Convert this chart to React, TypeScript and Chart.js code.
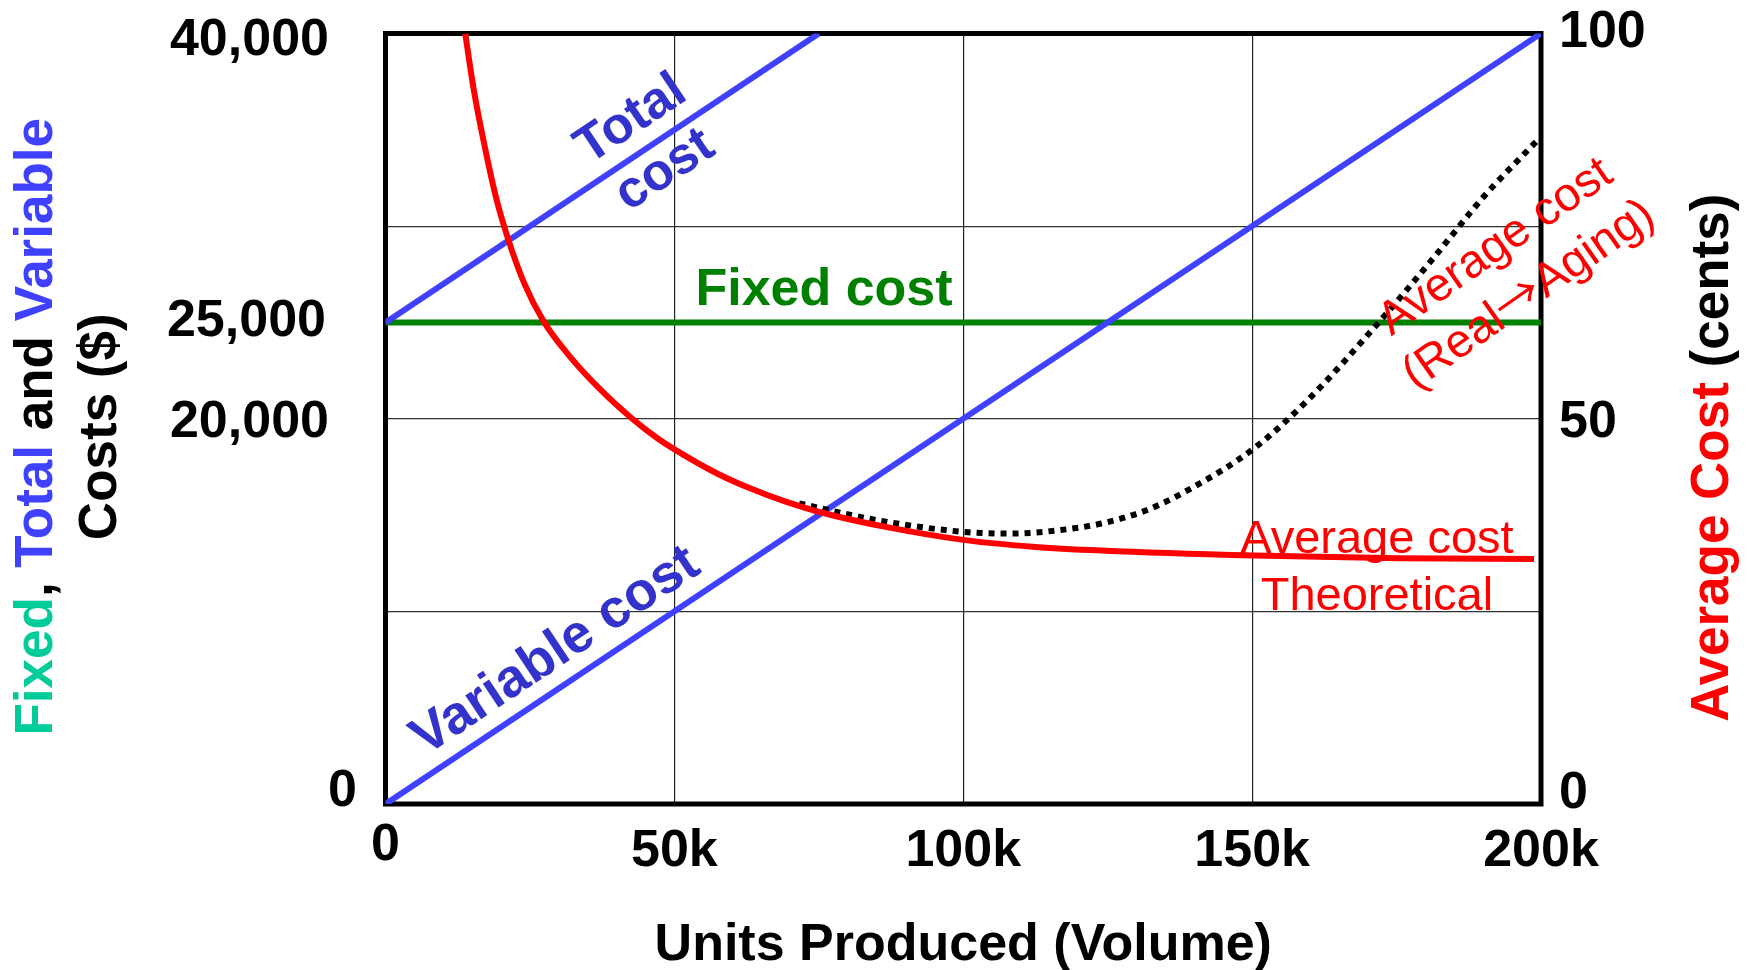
import React, { useEffect, useRef } from 'react';
import { Chart, registerables } from 'chart.js';

Chart.register(...registerables);

// ---------------- data ----------------
const X_TICKS = [0, 50000, 100000, 150000, 200000];
const X_TICK_LABELS = ['0', '50k', '100k', '150k', '200k'];
const COST_TICKS = [0, 20000, 25000, 40000];
const COST_TICK_LABELS = ['0', '20,000', '25,000', '40,000'];
const COST_GRID = [10000, 20000, 30000];
const AVG_TICKS = [0, 50, 100];
const AVG_TICK_LABELS = ['0', '50', '100'];

const VARIABLE_UNITS = [0, 200000];
const VARIABLE_COST = [0, 40000];
const TOTAL_UNITS = [0, 75000];
const TOTAL_COST = [25000, 40000];
const FIXED_UNITS = [0, 200000];
const FIXED_COST = [25000, 25000];

const AVG_THEORY_UNITS = [13800, 15300, 17100, 19100, 21100, 24000, 27400, 32000, 37300, 42400, 47000, 50300, 57400, 63000, 69000, 75100, 87000, 100300, 112000, 123900, 150300, 175300, 198800];
const AVG_THEORY_CENTS = [100, 92.6, 85.6, 78.8, 73.6, 67.6, 62.6, 58.0, 53.7, 50.2, 47.5, 45.9, 42.9, 41.0, 39.3, 37.9, 35.9, 34.25, 33.4, 32.9, 32.25, 31.9, 31.8];

const AVG_REAL_UNITS = [71600, 85400, 100300, 108500, 116200, 123900, 131600, 139300, 150400, 159600, 171800, 181100, 190300, 199200];
const AVG_REAL_CENTS = [39.0, 36.8, 35.3, 35.1, 35.5, 36.4, 38.1, 40.9, 46.2, 52.4, 62.4, 70.6, 79.0, 86.0];

// ---------------- style ----------------
const FONT = '"Liberation Sans", Arial, Helvetica, sans-serif';
const ARROW_FONT = '"Noto Sans CJK JP", "DejaVu Sans", sans-serif';
const BIG = 52;
const TITLE = 53;
const NOTE = 47;
const LINE_W = 6;
const BLUE_LINE = '#4040ff';
const BLUE_TEXT = '#3333cc';
const GREEN = '#008000';
const RED = '#ff0000';
const TEAL = '#00cc99';

const LINES: any = {
  variable: { x: VARIABLE_UNITS, y: VARIABLE_COST },
  total: { x: TOTAL_UNITS, y: TOTAL_COST },
  fixed: { x: FIXED_UNITS, y: FIXED_COST },
};

// label nudges [dx, dy] in px
const X_NUDGE: any = { 0: [0, -6] };
const LEFT_NUDGE: any = { 0: [28, -17], 25000: [-3, -5], 40000: [0, 3] };
const RIGHT_NUDGE: any = { 0: [0, -15], 100: [0, -5] };

// each line is a list of [text, font-family] segments
const ANNOTATIONS: any[] = [
  { lines: [[['Total', FONT]], [['cost', FONT]]], line: 'total', x: 44900, along: true, u: 5, v: [-18, 43], weight: 'bold', size: BIG, color: BLUE_TEXT },
  { lines: [[['Variable cost', FONT]]], line: 'variable', x: 32600, along: true, u: 0, v: [-17.5], weight: 'bold', size: 54, color: BLUE_TEXT },
  { lines: [[['Fixed cost', FONT]]], line: 'fixed', x: 75900, angle: 0, u: 0, v: [-17], weight: 'bold', size: BIG, color: GREEN },
  {
    lines: [[['Average cost', FONT]], [['(Real', FONT], ['\u2192', ARROW_FONT], ['Aging)', FONT]]],
    axis: 'y1', x: 195100, y: 69.1, angle: -35, u: 0, v: [-16.5, 41.5], weight: 'normal', size: NOTE, color: RED,
  },
  { lines: [[['Average cost', FONT]], [['Theoretical', FONT]]], axis: 'y1', x: 171600, y: 32.6, angle: 0, u: 0, v: [0, 57], weight: 'normal', size: NOTE, color: RED },
];

function interp(xs: number[], ys: number[], x: number) {
  for (let i = 0; i < xs.length - 1; i++) {
    if (x >= xs[i] && x <= xs[i + 1]) {
      const t = (x - xs[i]) / (xs[i + 1] - xs[i]);
      return ys[i] + t * (ys[i + 1] - ys[i]);
    }
  }
  return ys[ys.length - 1];
}

function toPoints(xs: number[], ys: number[]) {
  return xs.map((x, i) => ({ x, y: ys[i] }));
}

function drawSegments(ctx: any, segs: [string, string, string?][], cx: number, y: number, weight: string, size: number, defColor: string) {
  const widths = segs.map(([t, f]) => {
    ctx.font = `${weight} ${size}px ${f}`;
    return ctx.measureText(t).width;
  });
  const total = widths.reduce((s, w) => s + w, 0);
  let x = cx - total / 2;
  ctx.textAlign = 'left';
  segs.forEach(([t, f, c], i) => {
    ctx.font = `${weight} ${size}px ${f}`;
    ctx.fillStyle = c || defColor;
    ctx.fillText(t, x, y);
    x += widths[i];
  });
}

const overlayPlugin = {
  id: 'overlay',
  beforeDatasetsDraw(chart: any) {
    const { ctx, chartArea: a } = chart;
    ctx.save();
    ctx.strokeStyle = '#000';
    ctx.lineWidth = 5;
    ctx.strokeRect(a.left, a.top, a.right - a.left, a.bottom - a.top);
    ctx.restore();
  },
  afterDatasetsDraw(chart: any) {
    const { ctx, scales } = chart;
    for (const an of ANNOTATIONS) {
      const ys = an.axis === 'y1' ? scales.y1 : scales.y;
      let yv = an.y;
      if (an.line) {
        const L = LINES[an.line];
        yv = interp(L.x, L.y, an.x);
      }
      const px = scales.x.getPixelForValue(an.x);
      const py = ys.getPixelForValue(yv);
      let ang = ((an.angle || 0) * Math.PI) / 180;
      if (an.along) {
        const L = LINES[an.line];
        const x0 = scales.x.getPixelForValue(L.x[0]);
        const y0 = scales.y.getPixelForValue(L.y[0]);
        const x1 = scales.x.getPixelForValue(L.x[L.x.length - 1]);
        const y1 = scales.y.getPixelForValue(L.y[L.y.length - 1]);
        ang = Math.atan2(y1 - y0, x1 - x0);
      }
      ctx.save();
      ctx.translate(px, py);
      ctx.rotate(ang);
      ctx.textBaseline = 'alphabetic';
      an.lines.forEach((segs: any, i: number) => drawSegments(ctx, segs, an.u || 0, an.v[i], an.weight, an.size, an.color));
      ctx.restore();
    }
  },
  afterDraw(chart: any) {
    const { ctx, chartArea: a, scales } = chart;
    const capHalf = BIG * 0.358;
    ctx.save();
    ctx.font = `bold ${BIG}px ${FONT}`;
    ctx.fillStyle = '#000';
    ctx.textBaseline = 'alphabetic';

    // x tick labels
    ctx.textAlign = 'center';
    X_TICKS.forEach((v, i) => {
      const [dx, dy] = X_NUDGE[v] || [0, 0];
      ctx.fillText(X_TICK_LABELS[i], scales.x.getPixelForValue(v) + dx, a.bottom + 43 + dy + capHalf);
    });
    // left tick labels
    ctx.textAlign = 'right';
    COST_TICKS.forEach((v, i) => {
      const [dx, dy] = LEFT_NUDGE[v] || [0, 0];
      ctx.fillText(COST_TICK_LABELS[i], a.left - 56.5 + dx, scales.y.getPixelForValue(v) + dy + capHalf);
    });
    // right tick labels
    ctx.textAlign = 'left';
    AVG_TICKS.forEach((v, i) => {
      const [dx, dy] = RIGHT_NUDGE[v] || [0, 0];
      ctx.fillText(AVG_TICK_LABELS[i], a.right + 18 + dx, scales.y1.getPixelForValue(v) + dy + capHalf);
    });

    // x title
    ctx.textAlign = 'center';
    ctx.fillText('Units Produced (Volume)', (a.left + a.right) / 2, a.bottom + 156);

    const midY = (a.top + a.bottom) / 2;

    // left title (two lines, rotated)
    ctx.save();
    ctx.translate(0, midY + 8);
    ctx.rotate(-Math.PI / 2);
    drawSegments(
      ctx,
      [
        ['Fixed', FONT, TEAL],
        [', ', FONT, '#000'],
        ['Total', FONT, BLUE_LINE],
        [' and ', FONT, '#000'],
        ['Variable', FONT, BLUE_LINE],
      ],
      0, 52, 'bold', TITLE, '#000'
    );
    drawSegments(ctx, [['Costs ($)', FONT, '#000']], 0, 116, 'bold', TITLE, '#000');
    ctx.restore();

    // right title
    ctx.save();
    ctx.translate(0, midY + 39);
    ctx.rotate(-Math.PI / 2);
    drawSegments(
      ctx,
      [
        ['Average Cost', FONT, RED],
        [' (cents)', FONT, '#000'],
      ],
      0, a.right + 187, 'bold', TITLE, '#000'
    );
    ctx.restore();

    ctx.restore();
  },
};

export default function App() {
  const ref = useRef<HTMLCanvasElement | null>(null);

  useEffect(() => {
    const canvas = ref.current;
    if (!canvas) return;
    const gridTicks = Array.from(new Set([...COST_TICKS, ...COST_GRID])).sort((p, q) => p - q);
    const chart = new Chart(canvas, {
      type: 'line',
      data: {
        datasets: [
          {
            label: 'Average cost theoretical',
            data: toPoints(AVG_THEORY_UNITS, AVG_THEORY_CENTS),
            yAxisID: 'y1',
            borderColor: RED,
            borderWidth: LINE_W,
            cubicInterpolationMode: 'monotone',
            pointRadius: 0,
            fill: false,
          },
          {
            label: 'Average cost real',
            data: toPoints(AVG_REAL_UNITS, AVG_REAL_CENTS),
            yAxisID: 'y1',
            borderColor: '#000',
            borderWidth: LINE_W,
            borderDash: [6, 6],
            cubicInterpolationMode: 'monotone',
            pointRadius: 0,
            fill: false,
          },
          {
            label: 'Variable cost',
            data: toPoints(VARIABLE_UNITS, VARIABLE_COST),
            yAxisID: 'y',
            borderColor: BLUE_LINE,
            borderWidth: LINE_W,
            pointRadius: 0,
            fill: false,
          },
          {
            label: 'Total cost',
            data: toPoints(TOTAL_UNITS, TOTAL_COST),
            yAxisID: 'y',
            borderColor: BLUE_LINE,
            borderWidth: LINE_W,
            pointRadius: 0,
            fill: false,
          },
          {
            label: 'Fixed cost',
            data: toPoints(FIXED_UNITS, FIXED_COST),
            yAxisID: 'y',
            borderColor: GREEN,
            borderWidth: LINE_W,
            pointRadius: 0,
            fill: false,
          },
        ],
      } as any,
      options: {
        responsive: false,
        animation: false,
        devicePixelRatio: 1,
        layout: { padding: { top: 33.5, left: 0, right: 0, bottom: 0 } },
        plugins: { legend: { display: false }, tooltip: { enabled: false } },
        scales: {
          x: {
            type: 'linear',
            min: 0,
            max: 200000,
            afterBuildTicks: (s: any) => {
              s.ticks = X_TICKS.map((v) => ({ value: v }));
            },
            afterFit: (s: any) => {
              s.height = 166;
            },
            ticks: { display: false },
            grid: {
              drawTicks: false,
              lineWidth: 1.2,
              color: (c: any) => (c.tick && (c.tick.value === 0 || c.tick.value === 200000) ? 'rgba(0,0,0,0)' : '#222'),
            },
            border: { display: false },
          },
          y: {
            type: 'linear',
            position: 'left',
            min: 0,
            max: 40000,
            afterBuildTicks: (s: any) => {
              s.ticks = gridTicks.map((v) => ({ value: v }));
            },
            afterFit: (s: any) => {
              s.width = 385.5;
            },
            ticks: { display: false },
            grid: {
              drawTicks: false,
              lineWidth: 1.2,
              color: (c: any) => (c.tick && COST_GRID.includes(c.tick.value) ? '#333' : 'rgba(0,0,0,0)'),
            },
            border: { display: false },
          },
          y1: {
            type: 'linear',
            position: 'right',
            min: 0,
            max: 100,
            afterBuildTicks: (s: any) => {
              s.ticks = AVG_TICKS.map((v) => ({ value: v }));
            },
            afterFit: (s: any) => {
              s.width = 215;
            },
            ticks: { display: false },
            grid: { drawOnChartArea: false, drawTicks: false },
            border: { display: false },
          },
        },
      } as any,
      plugins: [overlayPlugin],
    });
    return () => chart.destroy();
  }, []);

  return (
    <div style={{ position: 'fixed', left: 0, top: 0, width: 1756, height: 970, background: '#fff' }}>
      <canvas ref={ref} width={1756} height={970} style={{ display: 'block' }} />
    </div>
  );
}
